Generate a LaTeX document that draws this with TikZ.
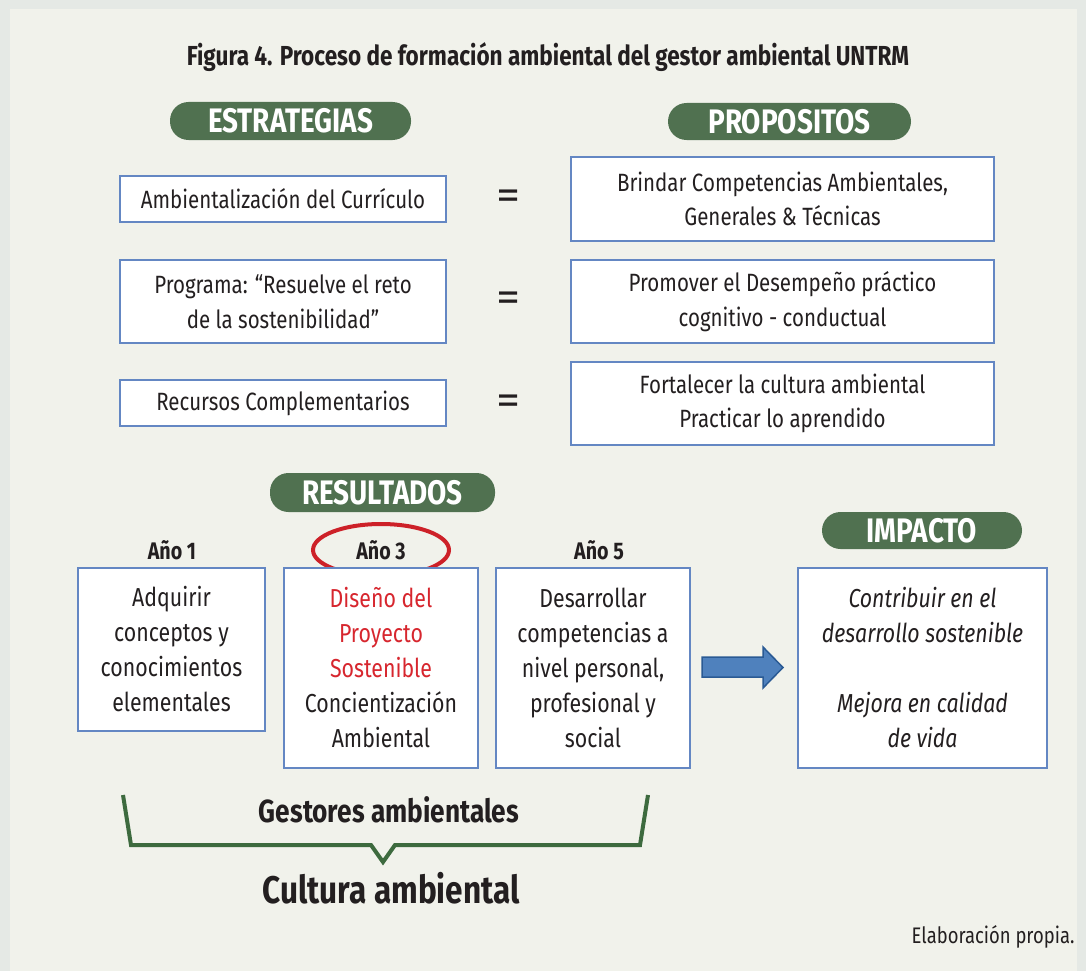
\documentclass[tikz,border=0pt]{standalone}
\usepackage{fontspec}
\setmainfont{Fira Sans}[FakeStretch=0.82]
\definecolor{outerbg}{RGB}{229,233,229}
\definecolor{innerbg}{RGB}{241,242,235}
\definecolor{pillgreen}{RGB}{80,113,80}
\definecolor{boxblue}{RGB}{100,135,195}
\definecolor{txt}{RGB}{35,31,32}
\definecolor{redtxt}{RGB}{215,38,46}
\definecolor{ellred}{RGB}{205,33,40}
\definecolor{arrfill}{RGB}{79,129,189}
\definecolor{arrdraw}{RGB}{42,90,148}
\definecolor{brgreen}{RGB}{61,106,62}
\tikzset{
  box/.style={draw=boxblue, line width=1.3pt, fill=white, inner sep=0pt, align=center,
    text=txt, font=\fontsize{25}{34.5}\selectfont},
  pill/.style={fill=pillgreen, rounded corners=18.5pt, inner sep=0pt, text=white,
    font=\fontsize{34}{34}\selectfont\bfseries},
  year/.style={text=txt, font=\fontsize{24}{24}\selectfont\bfseries},
  eqs/.style={text=txt, inner sep=0pt, font=\fontsize{42}{42}\selectfont},
}
\begin{document}
\begin{tikzpicture}[x=1pt,y=-1pt]
\useasboundingbox (0,0) rectangle (1086,971);
\fill[outerbg] (0,0) rectangle (1086,971);
\fill[innerbg] (10,9) rectangle (1077,971);

\node[text=txt, font=\fontsize{27.5}{27.5}\selectfont\bfseries] (title) at (548,57)
  {Figura 4. Proceso de formación ambiental del gestor ambiental UNTRM};

\node[pill, minimum width=241pt, minimum height=38pt] (estr) at (290.5,121) {ESTRATEGIAS};
\node[pill, minimum width=243pt, minimum height=37pt] (prop) at (789.5,121.5) {PROPOSITOS};

\node[box, minimum width=326pt, minimum height=46pt] (s1) at (283,199) {Ambientalización del Currículo};
\node[box, minimum width=326pt, minimum height=83pt] (s2) at (283,301.5) {Programa: “Resuelve el reto\\de la sostenibilidad”};
\node[box, minimum width=326pt, minimum height=46pt] (s3) at (283,403) {Recursos Complementarios};

\node[box, minimum width=423pt, minimum height=84pt] (p1) at (782.5,199) {Brindar Competencias Ambientales,\\Generales \& Técnicas};
\node[box, minimum width=423pt, minimum height=83pt] (p2) at (782.5,301.5) {Promover el Desempeño práctico\\cognitivo - conductual};
\node[box, minimum width=423pt, minimum height=83pt] (p3) at (782.5,403.5) {Fortalecer la cultura ambiental\\Practicar lo aprendido};

\node[eqs] (e1) at (508.5,200) {\scalebox{1.4}[1]{=}};
\node[eqs] (e2) at (508.5,302) {\scalebox{1.4}[1]{=}};
\node[eqs] (e3) at (508.5,405) {\scalebox{1.4}[1]{=}};

\node[pill, minimum width=225pt, minimum height=39pt] (res) at (382.5,492.5) {RESULTADOS};
\node[pill, minimum width=200pt, minimum height=37pt] (imp) at (922,530.5) {IMPACTO};

\node[year] (a1) at (172,550) {Año 1};
\node[year] (a3) at (381,550) {Año 3};
\node[year] (a5) at (599,550) {Año 5};
\draw[ellred, line width=4pt] (a3.center) ellipse [x radius=68pt, y radius=26pt];

\node[box, minimum width=187pt, minimum height=163pt, font=\fontsize{26}{35}\selectfont] (y1) at (171.5,649.5)
  {Adquirir\\conceptos y\\conocimientos\\elementales};
\node[box, minimum width=194pt, minimum height=200pt, font=\fontsize{26}{35}\selectfont] (y3) at (381,668)
  {\textcolor{redtxt}{Diseño del}\\\textcolor{redtxt}{Proyecto}\\\textcolor{redtxt}{Sostenible}\\Concientización\\Ambiental};
\node[box, minimum width=194pt, minimum height=200pt, font=\fontsize{26}{35}\selectfont] (y5) at (593,668)
  {Desarrollar\\competencias a\\nivel personal,\\profesional y\\social};
\node[box, minimum width=249pt, minimum height=200pt, font=\fontsize{26}{35}\selectfont\itshape] (ib) at (922.5,668)
  {Contribuir en el\\desarrollo sostenible\\[35pt]Mejora en calidad\\de vida};

\draw[fill=arrfill, draw=arrdraw, line width=1.5pt, line join=miter]
  (702,657) -- (763,657) -- (763,647) -- (783,667.5) -- (763,688) -- (763,677) -- (702,677) -- cycle;

\draw[brgreen, line width=4pt, line join=miter]
  (123,795) -- (131,845) -- (371,845) -- (383,862) -- (395,845) -- (640,845) -- (648,795);

\node[text=txt, font=\fontsize{32}{32}\selectfont\bfseries] (gest) at (389,810) {Gestores ambientales};
\node[text=txt, font=\fontsize{38.5}{38.5}\selectfont\bfseries] (cult) at (391,888) {Cultura ambiental};
\node[text=txt, anchor=east, font=\fontsize{22.5}{22.5}\selectfont] (elab) at (1078,937) {Elaboración propia.};
\end{tikzpicture}
\end{document}
